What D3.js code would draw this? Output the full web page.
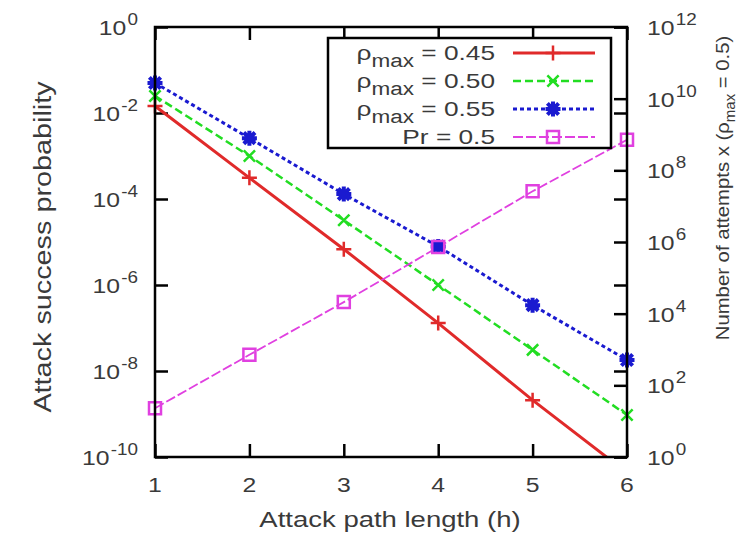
<!DOCTYPE html>
<html>
<head>
<meta charset="utf-8">
<script src="https://cdn.jsdelivr.net/npm/d3@7"></script>
<style>
  body { margin: 0; background: #fff; }
  svg text { font-family: "Liberation Sans", Arial, sans-serif; fill: #3a3a3a; }
</style>
</head>
<body>
<div id="chart"></div>
<script>
// path length h
const hops = [1, 2, 3, 4, 5, 6];

// attack success probability (left axis)
const rho045 = [1.45e-2, 3.1e-4, 6.8e-6, 1.3e-7, 2.1e-9, 4.3e-11];
const rho050 = [2.5e-2, 1.0e-3, 3.2e-5, 1.0e-6, 3.1e-8, 9.5e-10];
const rho055 = [5.0e-2, 2.6e-3, 1.3e-4, 7.9e-6, 3.4e-7, 1.8e-8];

// number of attempts (right axis)
const attemptsPr05 = [23, 710, 2.1e4, 7.2e5, 2.6e7, 7.1e8];

const leftTicks = [1e-10, 1e-8, 1e-6, 1e-4, 1e-2, 1e0];
const rightTicks = [1e0, 1e2, 1e4, 1e6, 1e8, 1e10, 1e12];
const legendLabels = ["0.45", "0.50", "0.55"];

const margin = { top: 27, right: 118, bottom: 80, left: 155 };
const W = 745, H = 537;
const width = W - margin.left - margin.right;
const height = H - margin.top - margin.bottom;

const svg = d3.select('#chart')
  .append('svg')
  .attr('width', W)
  .attr('height', H);

const g = svg.append('g')
  .attr('transform', `translate(${margin.left},${margin.top})`);

const x = d3.scaleLinear().domain([1, 6]).range([0, width]);
const y = d3.scaleLog().domain([1e-10, 1]).range([height, 0]);
const y2 = d3.scaleLog().domain([1, 1e12]).range([height, 0]);

const tickLen = 13;
const fs = 21;      // tick label font size
const sx = 1.18;    // the original text is a bit wider than Liberation Sans

// ---- ticks (gnuplot style, inward, mirrored) ----
function ticksOnly(axis) {
  return axis.tickSize(-tickLen).tickPadding(0).tickFormat('');
}
function styleAxis(sel) {
  sel.select('.domain').remove();
  sel.selectAll('.tick line').attr('stroke', '#000').attr('stroke-width', 2.5);
}

g.append('g')
  .attr('transform', `translate(0,${height})`)
  .call(ticksOnly(d3.axisBottom(x).tickValues(hops)))
  .call(styleAxis);
g.append('g')
  .call(ticksOnly(d3.axisTop(x).tickValues(hops)))
  .call(styleAxis);
g.append('g')
  .call(ticksOnly(d3.axisLeft(y).tickValues(leftTicks)))
  .call(styleAxis);
g.append('g')
  .attr('transform', `translate(${width},0)`)
  .call(ticksOnly(d3.axisRight(y).tickValues(leftTicks)))
  .call(styleAxis);
g.append('g')
  .attr('transform', `translate(${width},0)`)
  .call(ticksOnly(d3.axisRight(y2).tickValues(rightTicks)))
  .call(styleAxis);

// ---- tick labels ----
g.selectAll('.xlab')
  .data(hops)
  .join('text')
  .attr('class', 'xlab')
  .attr('transform', d => `translate(${x(d)},${height + 35}) scale(${sx},1)`)
  .attr('text-anchor', 'middle')
  .style('font-size', fs + 'px')
  .text(d => d);

function powLabel(sel) {
  sel.append('tspan').text('10');
  sel.append('tspan')
    .attr('dx', 1)
    .attr('dy', -10)
    .style('font-size', '16px')
    .text(d => Math.round(Math.log10(d)));
}

g.selectAll('.ylab')
  .data(leftTicks)
  .join('text')
  .attr('class', 'ylab')
  .attr('transform', d => `translate(-17,${y(d) + 8}) scale(${sx},1)`)
  .attr('text-anchor', 'end')
  .style('font-size', fs + 'px')
  .call(powLabel);

g.selectAll('.y2lab')
  .data(rightTicks)
  .join('text')
  .attr('class', 'y2lab')
  .attr('transform', d => `translate(${width + 20},${y2(d) + 8}) scale(${sx},1)`)
  .style('font-size', fs + 'px')
  .call(powLabel);

// ---- axis titles ----
svg.append('text')
  .attr('transform', 'translate(390,527) scale(1.25,1)')
  .attr('text-anchor', 'middle')
  .style('font-size', '22px')
  .text('Attack path length (h)');

svg.append('text')
  .attr('transform', 'translate(51,247) rotate(-90) scale(1.2,1)')
  .attr('text-anchor', 'middle')
  .style('font-size', '24px')
  .text('Attack success probability');

const r2 = svg.append('text')
  .attr('transform', 'translate(729,188) rotate(-90) scale(1.07,1)')
  .attr('text-anchor', 'middle')
  .style('font-size', '19px');
r2.append('tspan').text('Number of attempts x (ρ');
r2.append('tspan').attr('dy', 6).style('font-size', '14px').text('max');
r2.append('tspan').attr('dy', -6).text(' = 0.5)');

// ---- series ----
const series = [
  { values: rho045, scale: y, color: '#e02a2a', dash: null, w: 3, mark: 'plus' },
  { values: rho050, scale: y, color: '#22dd22', dash: '8,4', w: 2.5, mark: 'times' },
  { values: rho055, scale: y, color: '#1a1ad0', dash: '4,3', w: 3, mark: 'star' },
  { values: attemptsPr05, scale: y2, color: '#e040e0', dash: '10,3', w: 1.8, mark: 'square' }
];

function markerPath(type, r) {
  const p = d3.path();
  if (type === 'plus' || type === 'star') {
    p.moveTo(-r, 0); p.lineTo(r, 0);
    p.moveTo(0, -r); p.lineTo(0, r);
  }
  if (type === 'times' || type === 'star') {
    const q = r * 0.75;
    p.moveTo(-q, -q); p.lineTo(q, q);
    p.moveTo(-q, q); p.lineTo(q, -q);
  }
  if (type === 'square') {
    p.rect(-r * 0.8, -r * 0.8, r * 1.6, r * 1.6);
  }
  return p.toString();
}

svg.append('clipPath')
  .attr('id', 'plotclip')
  .append('rect')
  .attr('width', width)
  .attr('height', height);

const plot = g.append('g').attr('clip-path', 'url(#plotclip)');

series.forEach(s => {
  const line = d3.line()
    .x((d, i) => x(hops[i]))
    .y(d => s.scale(d));

  plot.append('path')
    .datum(s.values)
    .attr('fill', 'none')
    .attr('stroke', s.color)
    .attr('stroke-width', s.w)
    .attr('stroke-dasharray', s.dash)
    .attr('d', line);
});

series.forEach(s => {
  g.selectAll(null)
    .data(s.values.filter(v => v >= s.scale.domain()[0]))
    .join('path')
    .attr('transform', (d, i) => `translate(${x(hops[i])},${s.scale(d)})`)
    .attr('d', markerPath(s.mark, 7.5))
    .attr('fill', 'none')
    .attr('stroke', s.color)
    .attr('stroke-width', s.mark === 'star' ? 4 : 2.5);
});

// ---- legend ----
const lg = svg.append('g').attr('transform', 'translate(328,38)');
lg.append('rect')
  .attr('width', 283)
  .attr('height', 110)
  .attr('fill', '#fff')
  .attr('stroke', '#000')
  .attr('stroke-width', 2.5);

series.forEach((s, i) => {
  const ry = 15 + i * 28;
  const t = lg.append('text')
    .attr('transform', `translate(167,${ry + 7}) scale(1.25,1)`)
    .attr('text-anchor', 'end')
    .style('font-size', fs + 'px');
  if (i < 3) {
    t.append('tspan').text('ρ');
    t.append('tspan').attr('dy', 7).style('font-size', '18px').text('max');
    t.append('tspan').attr('dy', -7).text(' = ' + legendLabels[i]);
  } else {
    t.text('Pr = 0.5');
  }
  lg.append('line')
    .attr('x1', 185).attr('x2', 267)
    .attr('y1', ry).attr('y2', ry)
    .attr('stroke', s.color)
    .attr('stroke-width', s.w)
    .attr('stroke-dasharray', s.dash);
  lg.append('path')
    .attr('transform', `translate(225,${ry})`)
    .attr('d', markerPath(s.mark, 7.5))
    .attr('fill', 'none')
    .attr('stroke', s.color)
    .attr('stroke-width', s.mark === 'star' ? 4 : 2.5);
});

// ---- border ----
g.append('rect')
  .attr('width', width)
  .attr('height', height)
  .attr('fill', 'none')
  .attr('stroke', '#000')
  .attr('stroke-width', 2.5);
</script>
</body>
</html>
